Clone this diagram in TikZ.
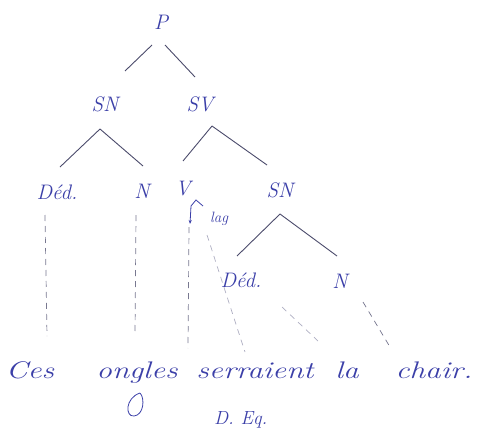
\documentclass[tikz,border=0pt]{standalone}
\usetikzlibrary{arrows.meta, positioning}
\definecolor{inkblue}{HTML}{3B3FA8}
\definecolor{inkgray}{HTML}{4B4B6B}
\definecolor{faintgray}{HTML}{AEAEC2}

\begin{document}
\begin{tikzpicture}[x=1pt, y=-1pt,
  lbl/.style={inner sep=1pt, text=inkblue, font=\fontsize{21}{23}\selectfont\itshape},
  wrd/.style={lbl, anchor=base, xscale=1.3, transform shape, font=\fontsize{24}{26}\selectfont\itshape},
  br/.style={inkgray, line width=0.9pt},
  lnk/.style={inkgray!75, line width=0.7pt, dash pattern=on 6pt off 5pt},
  faint/.style={faintgray, line width=0.7pt, dash pattern=on 6pt off 5pt},
]
  \useasboundingbox (0,0) rectangle (494,428);

  % categories
  \node[lbl] (p)    at (161,22)  {P};
  \node[lbl] (sn1)  at (105,104) {SN};
  \node[lbl] (sv)   at (200,104) {SV};
  \node[lbl] (det1) at (57,192)  {Déd.};
  \node[lbl] (n1)   at (142,191) {N};
  \node[lbl] (v)    at (183,189) {V};
  \node[lbl] (sn2)  at (280,190) {SN};
  \node[lbl, font=\fontsize{15}{17}\selectfont\itshape] (lag) at (219,219) {lag};
  \node[lbl] (det2) at (241,280) {Déd.};
  \node[lbl] (n2)   at (340,281) {N};

  % words
  \node[wrd] (w1) at (30,378)  {Ces};
  \node[wrd] (w2) at (137,378) {ongles};
  \node[wrd] (w3) at (255,378) {serraient};
  \node[wrd] (w4) at (347,378) {la};
  \node[wrd] (w5) at (434,378) {chair.};
  \node[lbl, anchor=south west, font=\fontsize{19}{21}\selectfont\itshape] (note) at (213,429) {D. Eq.};

  % branches
  \draw[br] ([shift={(-9,23)}]p.center)   -- ([shift={(20,-33)}]sn1.center);
  \draw[br] ([shift={(4,23)}]p.center)    -- ([shift={(-5,-27)}]sv.center);
  \draw[br] ([shift={(-5,25)}]sn1.center) -- ([shift={(3,-25)}]det1.center);
  \draw[br] ([shift={(-5,25)}]sn1.center) -- ([shift={(1,-25)}]n1.center);
  \draw[br] ([shift={(12,22)}]sv.center)  -- ([shift={(0,-28)}]v.center);
  \draw[br] ([shift={(12,22)}]sv.center)  -- ([shift={(-13,-25)}]sn2.center);
  \draw[br] ([shift={(0,24)}]sn2.center)  -- ([shift={(-4,-24)}]det2.center);
  \draw[br] ([shift={(0,24)}]sn2.center)  -- ([shift={(-3,-25)}]n2.center);

  % inflection mark under V
  \draw[inkblue, line width=0.8pt, -{Stealth[length=4pt]}]
    ([shift={(20,17)}]v.center) -- ++(-7,-6) -- ++(-5,6) -- ++(-1,18);

  % links to the words
  \draw[lnk]   ([shift={(-12,23)}]det1.center) -- ([shift={(17,-42)}]w1.base);
  \draw[lnk]   ([shift={(-6,24)}]n1.center)    -- ([shift={(-2,-44)}]w2.base);
  \draw[lnk]   ([shift={(6,38)}]v.center)      -- ([shift={(-67,-30)}]w3.base);
  \draw[faint] ([shift={(-12,16)}]lag.center)  -- ([shift={(-10,-26)}]w3.base);
  \draw[faint] ([shift={(41,27)}]det2.center)  -- ([shift={(-29,-37)}]w4.base);
  \draw[lnk]   ([shift={(23,21)}]n2.center)    -- ([shift={(-44,-31)}]w5.base);

  % loop under ongles
  \draw[inkblue, line width=0.8pt]
    ([shift={(3,15)}]w2.base) .. controls +(-15,5) and +(-9,1) .. ++(-6,23)
    .. controls +(10,-1) and +(5,5) .. ([shift={(3,15)}]w2.base);
\end{tikzpicture}
\end{document}
